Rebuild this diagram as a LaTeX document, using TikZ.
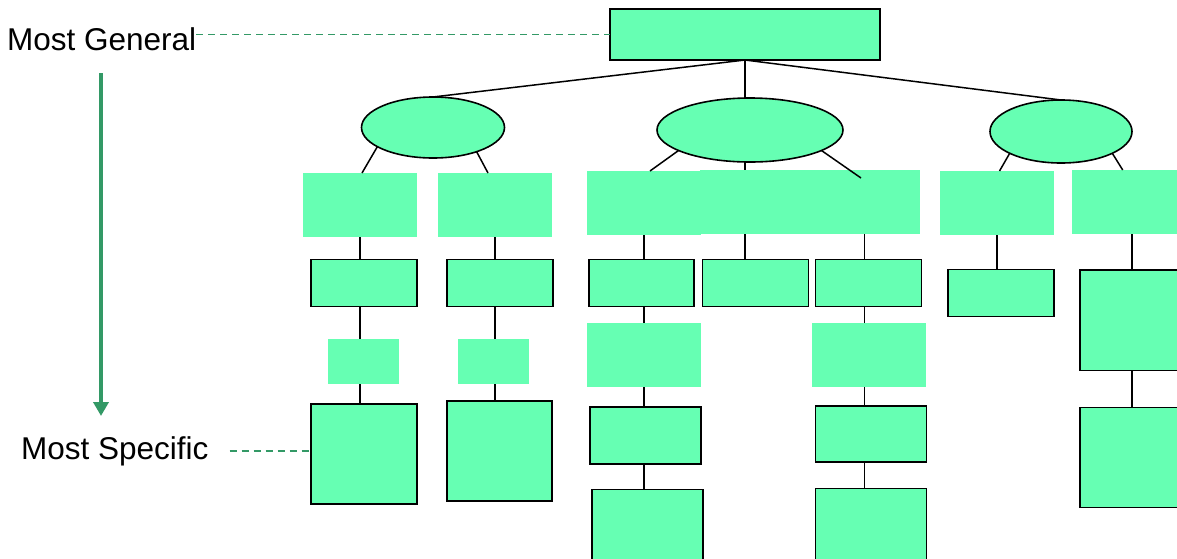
\documentclass[tikz,border=0pt]{standalone}
\usepackage{fontspec}
\setmainfont{Liberation Sans}
\usetikzlibrary{arrows.meta,shapes.geometric,backgrounds}
\definecolor{mint}{RGB}{102,255,179}
\definecolor{guide}{RGB}{51,153,102}
\definecolor{ink}{RGB}{0,0,0}

\begin{document}
\begin{tikzpicture}[x=1pt,y=-1pt,>=Stealth]
\tikzset{wh/.style 2 args={minimum width=#1pt,minimum height=#2pt},
  pad/.style={fill=mint,draw=none,inner sep=0pt,outer sep=0pt},
  box/.style={pad,draw=ink,line width=1.6pt},grp/.style={box,ellipse},
  lnk/.style={draw=ink,line width=1.5pt},
  tie/.style={draw=guide,line width=1.8pt,dash pattern=on 7pt off 5pt},
  lbl/.style={inner sep=0pt,anchor=base west,font=\fontsize{31.5}{37}\selectfont}}
\useasboundingbox (0,0) rectangle (1177,558);
\clip (0,0) rectangle (1177,558);
% scale on the left
\node[lbl] (gen) at (7,50) {Most General};
\node[lbl] (spec) at (21,459) {Most Specific};
\coordinate (arrtop) at (101,73);
\coordinate (arrtip) at (101,416);
\draw[guide,line width=3.5pt,-{Triangle[width=15pt,length=14pt]}] (arrtop) -- (arrtip);
% top and groups
\node[box,wh={270}{51}] (root) at (745,34.5) {};
\node[grp,wh={143}{61}] (ellL) at (433,127.5) {};
\node[grp,wh={186}{64}] (ellM) at (750,130) {};
\node[grp,wh={142}{63}] (ellR) at (1061,131.5) {};
% left group
\node[pad,wh={114}{64}] (a1) at (360,205) {};
\node[box,wh={106}{47}] (a2) at (364,283) {};
\node[pad,wh={71}{45}] (a3) at (363.5,361) {};
\node[box,wh={106}{100}] (a4) at (364,454) {};
\node[pad,wh={114}{64}] (b1) at (495,205) {};
\node[box,wh={106}{47}] (b2) at (499.7,283) {};
\node[pad,wh={71}{45}] (b3) at (493.5,361) {};
\node[box,wh={105}{100}] (b4) at (499.5,451) {};
% middle group
\node[pad,wh={114}{64}] (c1) at (644,203) {};
\node[box,wh={105}{47}] (c2) at (641.7,283) {};
\node[pad,wh={114}{64}] (c3) at (644,355) {};
\node[box,wh={111}{57}] (c4) at (645.6,435.7) {};
\node[box,wh={111}{81}] (c5) at (647.3,530) {};
\node[pad,wh={111}{64}] (m1) at (755.5,202) {};
\node[box,wh={106}{47}] (m2) at (755.3,283) {};
\node[pad,wh={111}{64}] (d1) at (864.5,202) {};
\node[box,wh={106}{47}] (d2) at (868.5,283) {};
\node[pad,wh={114}{64}] (d3) at (869,355) {};
\node[box,wh={111}{56}] (d4) at (871,434) {};
\node[box,wh={111}{81}] (d5) at (871,529) {};
% right group
\node[pad,wh={114}{64}] (e1) at (997,203) {};
\node[box,wh={106}{47}] (e2) at (1000.7,293) {};
\node[pad,wh={120}{64}] (f1) at (1132,202) {};
\node[box,wh={104}{100.6}] (f2) at (1132,320) {};
\node[box,wh={104}{100}] (f3) at (1132,457.3) {};
% columns
\begin{scope}[on background layer]
\draw[lnk] (a1.south) -- (a1.south |- a4.north);
\draw[lnk] (b1.south) -- (b1.south |- b4.north);
\draw[lnk] (c1.south) -- (c1.south |- c5.north);
\draw[lnk] (root.south) -- (root.south |- m2.north);
\draw[lnk] (d1.south) -- (d1.south |- d5.north);
\draw[lnk] (e1.south) -- (e1.south |- e2.north);
\draw[lnk] (f1.south) -- (f1.south |- f3.north);
\end{scope}
\draw[lnk] (root.south) -- (ellL.north);
\draw[lnk] (root.south) -- (ellR.north);
\draw[lnk] (ellL.199) -- ([xshift=2pt]a1.north);
\draw[lnk] (ellL.331) -- ([xshift=-7pt]b1.north);
\draw[lnk] (ellM.196.7) -- ([xshift=6pt]c1.north);
\draw[lnk] (ellM.344.7) -- ([xshift=-3.5pt,yshift=-8pt]d1.north);
\draw[lnk] (ellR.203.6) -- ([xshift=2.5pt]e1.north);
\draw[lnk] (ellR.337.9) -- ([xshift=-9.3pt]f1.north);
% guides
\draw[tie] (gen.east |- root.west) -- (root.west);
\draw[tie] ([xshift=21pt]spec.east) -- (spec.east -| a4.west);
\end{tikzpicture}
\end{document}
